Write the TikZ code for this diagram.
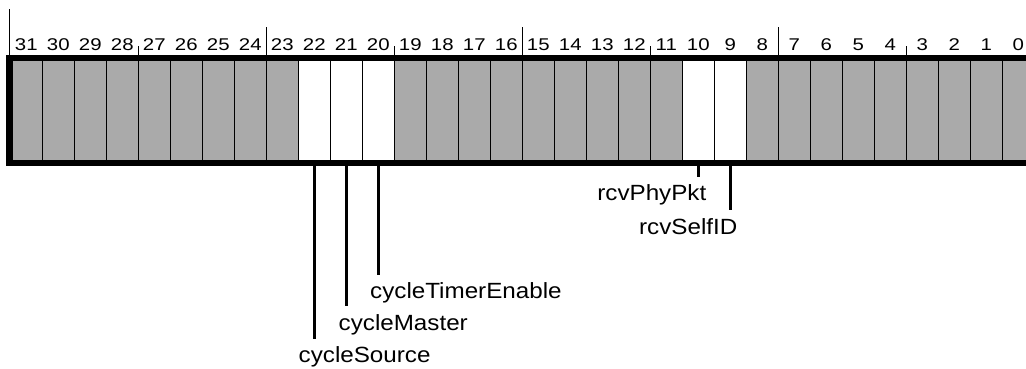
\documentclass[tikz,border=0pt]{standalone}
\usepackage{fontspec}
\setmainfont{Liberation Sans}
\newfontfamily\numfont[FakeStretch=1.2]{Liberation Sans}
\newfontfamily\labelfont[FakeStretch=1.1]{Liberation Sans}
\definecolor{bitgray}{RGB}{170,170,170}
\begin{document}
\begin{tikzpicture}[x=1pt,y=1pt]
	\tikzstyle{Cell} = [rectangle, minimum width=32pt, minimum height=103.8pt, inner sep=0pt, draw=black, line width=1.2pt, fill=bitgray]
	\tikzstyle{Num} = [anchor=base, inner sep=0pt, font=\numfont\fontsize{17}{19}\selectfont]
	\tikzstyle{Label} = [inner xsep=0pt, inner ysep=7.5pt, font=\labelfont\fontsize{22}{26}\selectfont]
	\tikzstyle{leader} = [line width=3pt]
	\tikzstyle{tick} = [line width=1pt]
	
	\clip (0,0) rectangle (1026,-368);
	
	% register cells, bit 31 on the left
	\foreach \i in {0,...,31} {
		\node (b\i) [Cell] at ({26.3+(31-\i)*32},-110.6) {};
		\node (n\i) [Num] at ([yshift=7.7pt]b\i.north) {\i};
	}
	\foreach \i in {22,21,20,10,9}
		\node [Cell, fill=white] at (b\i) {};
	
	\draw [line width=6.5pt] (b31.north west) rectangle (b0.south east);
	
	% ticks above the register
	\draw [tick] (b31.north west) -- ++(0,48.7);
	\foreach \i in {24,16,8}
		\draw [tick] (b\i.north east) -- ++(0,30.7);
	\foreach \i in {28,20,12,4}
		\draw [tick] (b\i.north east) -- ++(0,11.7);
	
	% field names
	\node (cte) [Label, anchor=base west] at (370,-298.3) {cycleTimerEnable};
	\node (cm) [Label, anchor=base west] at (338.5,-330) {cycleMaster};
	\node (cs) [Label, anchor=base west] at (298.5,-362.3) {cycleSource};
	\node (rpp) [Label, anchor=base east] at (706.5,-200.7) {rcvPhyPkt};
	\node (rsi) [Label, anchor=base east] at (737.5,-234) {rcvSelfID};
	
	\draw [leader] (b20.south) -- (b20.south |- cte.north);
	\draw [leader] (b21.south) -- (b21.south |- cm.north);
	\draw [leader] (b22.south) -- (b22.south |- cs.north);
	\draw [leader] (b10.south) -- (b10.south |- rpp.north);
	\draw [leader] (b9.south) -- (b9.south |- rsi.north);
\end{tikzpicture}
\end{document}
